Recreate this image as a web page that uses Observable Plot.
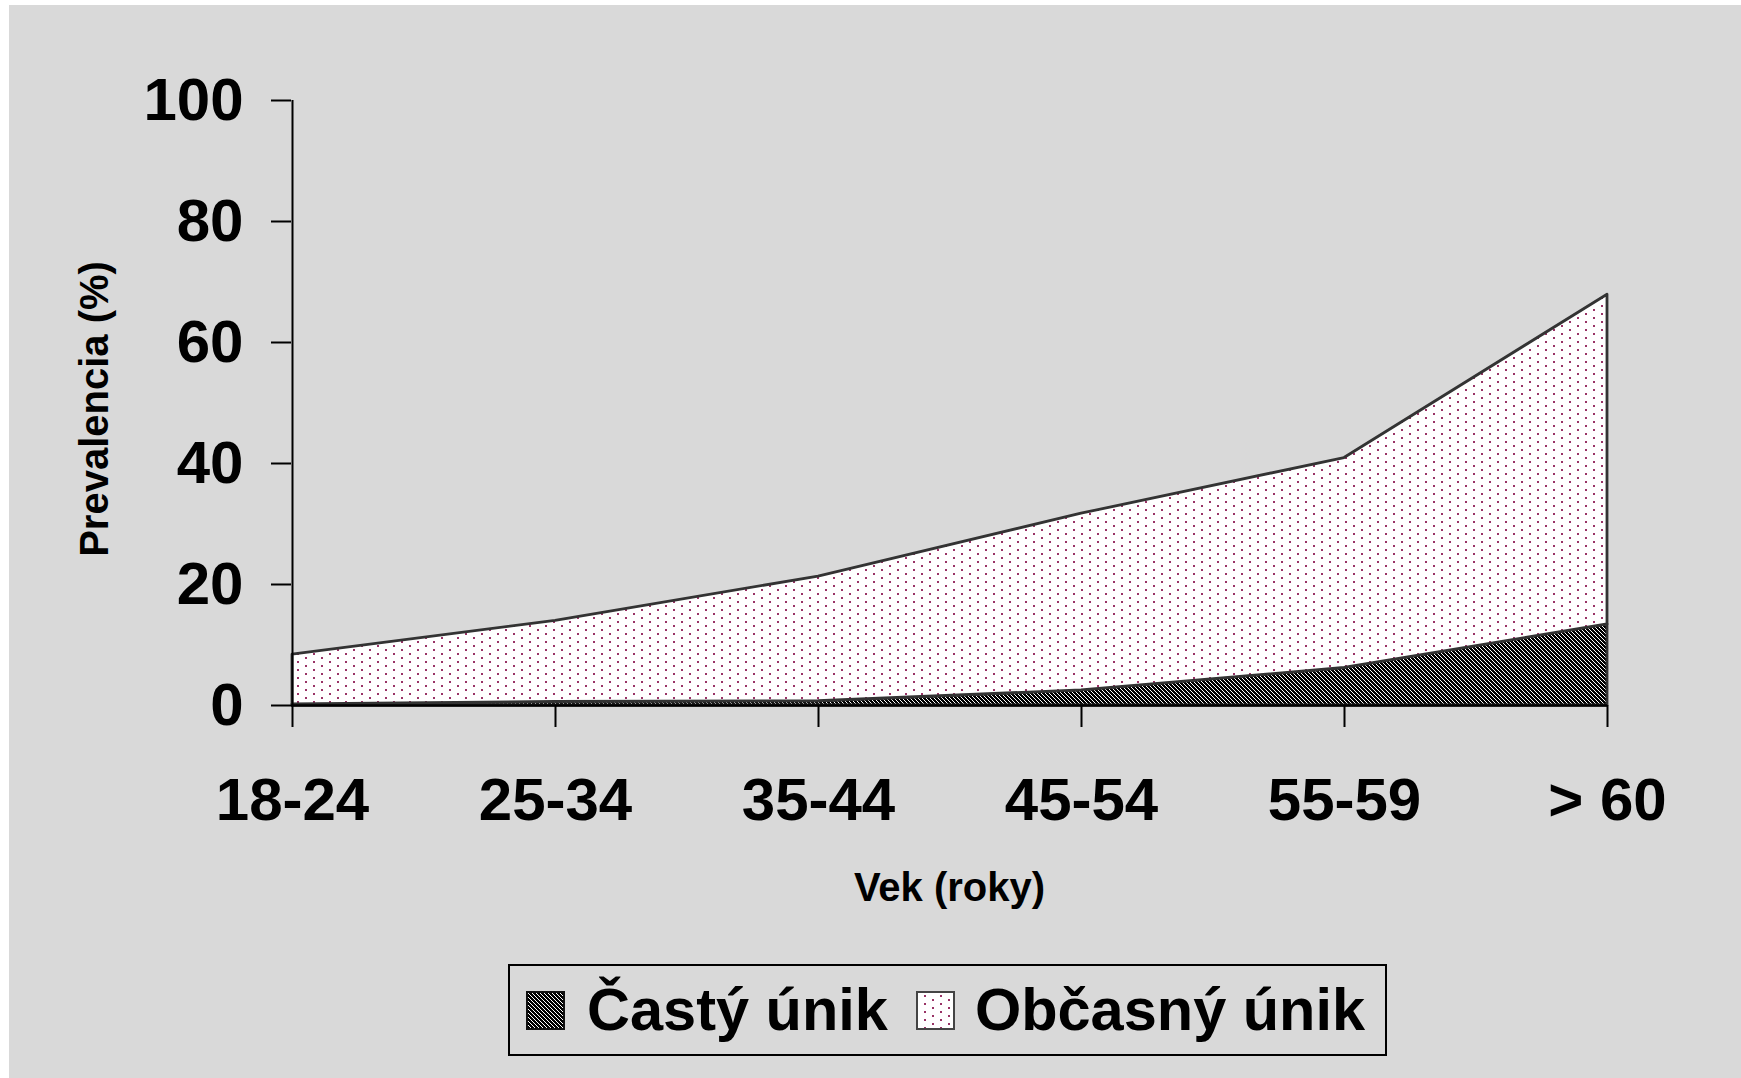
<!DOCTYPE html>
<html>
<head>
<meta charset="utf-8">
<script src="https://cdn.jsdelivr.net/npm/d3@7"></script>
<script src="https://cdn.jsdelivr.net/npm/@observablehq/plot@0.6"></script>
<style>
  html, body { margin: 0; padding: 0; background: #ffffff; }
  body { width: 1741px; height: 1078px; overflow: hidden; position: relative;
         font-family: "Liberation Sans", Arial, sans-serif; }
  #panel { position: absolute; left: 9px; top: 5px; width: 1732px; height: 1073px; background: #d9d9d9; }
  #plot { position: absolute; left: 0; top: 0; }
  #legend { position: absolute; left: 499px; top: 959px; width: 879px; height: 92px;
            box-sizing: border-box; border: 2px solid #000; display: flex; align-items: center;
            padding-left: 16px; font-weight: bold; font-size: 59.5px; color: #000; }
  #legend .item { display: flex; align-items: center; }
  #legend svg { display: block; }
  #legend .lbl { line-height: 1; white-space: nowrap; }
</style>
</head>
<body>
<svg width="0" height="0" style="position:absolute">
  <defs>
    <pattern id="hatch" width="4" height="4" patternUnits="userSpaceOnUse">
      <rect width="4" height="4" fill="#000"/>
      <rect x="0" y="0" width="1" height="1" fill="#fff"/>
      <rect x="1" y="1" width="1" height="1" fill="#fff"/>
      <rect x="2" y="2" width="1" height="1" fill="#fff"/>
      <rect x="3" y="3" width="1" height="1" fill="#fff"/>
    </pattern>
    <pattern id="dots" width="16" height="8" patternUnits="userSpaceOnUse">
      <rect width="16" height="8" fill="#fff"/>
      <rect x="0" y="0" width="2" height="2" fill="#993366"/>
      <rect x="8" y="4" width="2" height="2" fill="#993366"/>
    </pattern>
  </defs>
</svg>
<div id="panel">
  <div id="plot"></div>
  <div id="legend"></div>
</div>
<script>
// ---- data ----
const ages = ["18-24", "25-34", "35-44", "45-54", "55-59", "> 60"];
const castyUnik = [0.2, 0.6, 0.7, 2.5, 6.2, 13.4];       // Častý únik
const obcasnyUnik = [8.2, 13.4, 20.6, 29.2, 34.7, 54.5]; // Občasný únik (stacked on top)
const seriesNames = ["Častý únik", "Občasný únik"];
const seriesFills = ["url(#hatch)", "url(#dots)"];
const yTicks = [0, 20, 40, 60, 80, 100];
const yTitle = "Prevalencia (%)";
const xTitle = "Vek (roky)";

const seriesValues = [castyUnik, obcasnyUnik];
const rows = seriesNames.flatMap((s, k) =>
  ages.map((a, i) => ({age: a, series: s, value: seriesValues[k][i], pattern: seriesFills[k]})));

const chart = Plot.plot({
  width: 1732,
  height: 940,
  marginLeft: 282,
  marginRight: 134,
  marginTop: 95,
  marginBottom: 240,
  style: {background: "transparent", color: "#000", fontFamily: "'Liberation Sans', Arial, sans-serif",
          fontWeight: "bold", overflow: "visible"},
  x: {type: "point", domain: ages, padding: 0},
  y: {domain: [0, 100]},
  color: {type: "identity"},
  marks: [
    Plot.areaY(rows, Plot.stackY({x: "age", y: "value", z: "series", fill: "pattern",
      stroke: "#333", strokeWidth: 2.8, strokeLinejoin: "round"})),
    Plot.ruleY([0], {stroke: "#000", strokeWidth: 2.5}),
    Plot.ruleX([ages[0]], {y1: 0, y2: 100, stroke: "#000", strokeWidth: 2}),
    Plot.axisY({ticks: yTicks, tickSize: 20, tickPadding: 28, fontSize: 60, fontWeight: "bold",
      strokeWidth: 2, label: null}),
    Plot.axisX({tickSize: 22, tickPadding: 50, fontSize: 60, fontWeight: "bold",
      strokeWidth: 2, label: null}),
    Plot.text([yTitle], {text: d => d, frameAnchor: "left", textAnchor: "middle", lineAnchor: "middle",
      dx: -196, dy: 6, rotate: -90, fontSize: 40, fontWeight: "bold"}),
    Plot.text([xTitle], {text: d => d, frameAnchor: "bottom", textAnchor: "middle", lineAnchor: "middle",
      dy: 183, fontSize: 40, fontWeight: "bold"})
  ]
});
document.getElementById("plot").appendChild(chart);

// ---- legend ----
const legend = document.getElementById("legend");
const gaps = [[0, 22], [28, 20]];
seriesNames.forEach((name, k) => {
  const item = document.createElement("div");
  item.className = "item";
  item.style.marginLeft = gaps[k][0] + "px";
  const ns = "http://www.w3.org/2000/svg";
  const sw = document.createElementNS(ns, "svg");
  sw.setAttribute("width", 39); sw.setAttribute("height", 39);
  const r = document.createElementNS(ns, "rect");
  r.setAttribute("x", 1); r.setAttribute("y", 1); r.setAttribute("width", 37); r.setAttribute("height", 37);
  r.setAttribute("fill", seriesFills[k]);
  r.setAttribute("stroke", k === 0 ? "#111" : "#444");
  r.setAttribute("stroke-width", 2);
  sw.appendChild(r);
  const lbl = document.createElement("span");
  lbl.className = "lbl";
  lbl.style.marginLeft = gaps[k][1] + "px";
  lbl.textContent = name;
  item.appendChild(sw);
  item.appendChild(lbl);
  legend.appendChild(item);
});
</script>
</body>
</html>
